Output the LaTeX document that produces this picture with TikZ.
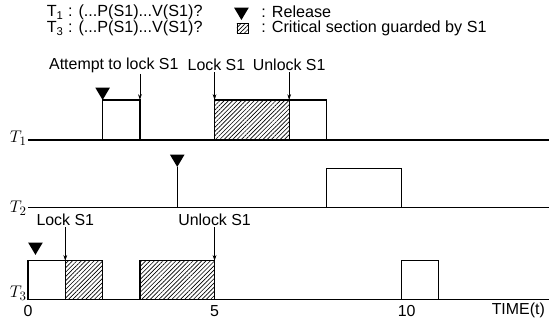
\documentclass[tikz,border=0pt]{standalone}
\usepackage{fontspec}
\setmainfont{Liberation Sans}
\usepackage{tikz}
\usetikzlibrary{patterns.meta,arrows.meta}

\tikzset{
  txt/.style={font=\fontsize{13.6}{13.6}\selectfont,inner sep=1pt},
  legtxt/.style={font=\fontsize{13.8}{12.8}\selectfont,inner sep=0pt,align=left,anchor=west},
  rowlab/.style={font=\fontsize{15}{15}\selectfont,inner sep=1pt,anchor=east},
  hatch/.style={pattern={Lines[angle=45,distance=2.6pt,line width=0.55pt]}},
  job/.style={draw,line width=1pt,fill=white},
  crit/.style={draw,line width=1pt,hatch},
  axis/.style={line width=1pt},
  pointer/.style={line width=0.6pt,-{Stealth[length=5pt,width=3.2pt]}},
  release/.pic={\fill (-0.22cm,0.37cm) -- (0.22cm,0.37cm) -- (0,0) -- cycle;}
}

\begin{document}
\begin{tikzpicture}[x=1.12cm,y=1cm]
  \useasboundingbox (-0.75,0) rectangle (13.99,9.75);

  % legend
  \node[legtxt] (legtask) at (0.5,9.13)
    {T\textsubscript{1} : (...P(S1)...V(S1)?\\T\textsubscript{3} : (...P(S1)...V(S1)?};
  \pic at (5.72,9.15) {release};
  \draw[line width=0.4pt,hatch] (5.6,8.74) rectangle (5.9,9.04);
  \node[legtxt] (legkey) at (6.25,9.13) {: Release\\: Critical section guarded by S1};

  % task T1
  \node[rowlab] (T1) at (0,5.6) {$T_1$};
  \draw[axis] (0,5.55) -- (13.95,5.55);
  \draw[job] (2,5.55) rectangle (3,6.75);
  \draw[crit] (5,5.55) rectangle (7,6.75);
  \draw[job] (7,5.55) rectangle (8,6.75);
  \pic at (2,6.75) {release};
  \coordinate (t1att) at (3,6.75);
  \coordinate (t1lock) at (5,6.75);
  \coordinate (t1unl) at (7,6.75);
  \node[txt] (att) at (2.3,7.8) {Attempt to lock S1};
  \node[txt] (lock1) at (5.05,7.8) {Lock S1};
  \node[txt] (unl1) at (7,7.8) {Unlock S1};
  \draw[pointer] (att.south -| t1att) -- (t1att);
  \draw[pointer] (lock1.south -| t1lock) -- (t1lock);
  \draw[pointer] (unl1) -- (t1unl);

  % task T2
  \node[rowlab] (T2) at (0,3.5) {$T_2$};
  \draw[axis] (0,3.51) -- (13.95,3.51);
  \coordinate (t2rel) at (4,4.74);
  \coordinate (t2base) at (4,3.51);
  \draw[axis] (t2rel) -- (t2base);
  \pic at (t2rel) {release};
  \draw[job] (8,3.51) rectangle (10,4.68);

  % task T3
  \node[rowlab] (T3) at (0,0.95) {$T_3$};
  \draw[axis] (0,0.75) -- (13.95,0.75);
  \draw[job] (0,0.75) rectangle (1,1.92);
  \draw[crit] (1,0.75) rectangle (2,1.92);
  \draw[crit] (3,0.75) rectangle (5,1.92);
  \draw[job] (10,0.75) rectangle (11,1.92);
  \pic at (0.2,2.1) {release};
  \coordinate (t3lock) at (1,1.92);
  \coordinate (t3unl) at (5,1.92);
  \node[txt] (lock3) at (1,3.15) {Lock S1};
  \node[txt] (unl3) at (5,3.15) {Unlock S1};
  \draw[pointer] (lock3) -- (t3lock);
  \draw[pointer] (unl3) -- (t3unl);

  % time axis
  \node[txt] (x0) at (0,0.42) {0};
  \node[txt] (x5) at (5,0.42) {5};
  \node[txt] (x10) at (10.15,0.42) {10};
  \node[txt] (time) at (13.14,0.42) {TIME(t)};
\end{tikzpicture}
\end{document}
